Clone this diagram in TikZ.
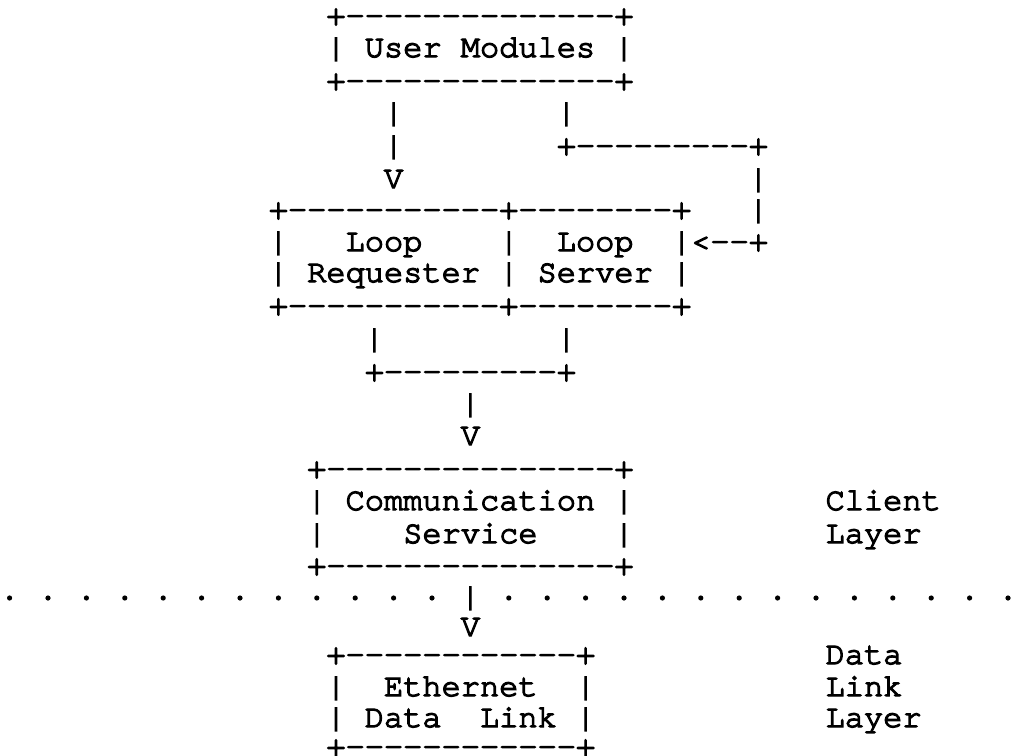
\documentclass[tikz,border=0pt]{standalone}
\usepackage{fontspec}
\newfontfamily\typew{texgyrecursor-regular.otf}[FakeBold=4]
\tikzset{
  ch/.style={anchor=base, inner sep=0pt, outer sep=0pt, text=black,
    font=\typew\fontsize{32}{38}\selectfont},
  dotmark/.style={fill=black}
}
\newcount\gcol
\makeatletter
% \crow{name prefix}{baseline y}{first column}{characters, _ = blank cell}
\newcommand\crow[4]{\gcol=#3\relax\def\cr@y{#2}\def\cr@n{#1}\cr@loop#4\relax}
\def\cr@loop#1{%
  \ifx\relax#1\else
    \if_#1\else
      \node[ch] (\cr@n\the\gcol) at (\the\gcol+0.5,\cr@y) {#1};
    \fi
    \advance\gcol by 1
    \expandafter\cr@loop
  \fi}
\makeatother
\begin{document}
\begin{tikzpicture}[x=19.2pt, y=-1pt]
\useasboundingbox (0pt,0pt) rectangle (1016pt,-755pt);
\fill[white] (0pt,0pt) rectangle (1016pt,-755pt);
% User Modules
\crow{r0c}{25}{17}{+--------------+}
\crow{r1c}{57}{17}{|_User_Modules_|}
\crow{r2c}{90}{17}{+--------------+}
\crow{r3c}{122}{20}{|________|}
\crow{r4c}{155}{20}{|________+---------+}
\crow{r5c}{188}{20}{V__________________|}
% Loop box
\crow{r6c}{219}{14}{+-----------+--------+___|}
\crow{r7c}{251}{14}{|___Loop____|__Loop__|<--+}
\crow{r8c}{282}{14}{|_Requester_|_Server_|}
\crow{r9c}{315}{14}{+-----------+--------+}
\crow{r10c}{348}{19}{|_________|}
\crow{r11c}{381}{19}{+---------+}
\crow{r12c}{413}{24}{|}
\crow{r13c}{445}{24}{V}
% Communication Service
\crow{r14c}{478}{16}{+---------------+}
\crow{r15c}{510}{16}{|_Communication_|__________Client}
\crow{r16c}{543}{16}{|____Service____|__________Layer}
\crow{r17c}{575}{16}{+---------------+}
% layer boundary
\foreach \c in {0,2,...,22,26,28,...,52} \fill[dotmark] (\c+0.5,598) circle[radius=2.6pt];
\crow{r18c}{606}{24}{|}
\crow{r19c}{636}{24}{V}
% Ethernet Data Link
\crow{r20c}{664}{17}{+------------+____________Data}
\crow{r21c}{696}{17}{|__Ethernet__|____________Link}
\crow{r22c}{727}{17}{|_Data__Link_|____________Layer}
\crow{r23c}{756}{17}{+------------+}
\end{tikzpicture}
\end{document}
